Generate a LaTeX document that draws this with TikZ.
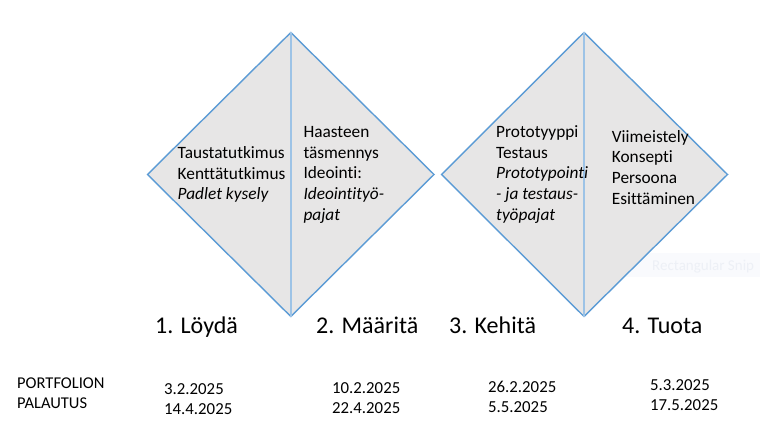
\documentclass[tikz,border=0pt]{standalone}
\usepackage{fontspec}
\setmainfont{Carlito}[Ligatures=NoCommon]
\begin{document}
\begin{tikzpicture}[x=1pt,y=-1pt,
  dia/.style={fill=dfill,draw=dblue,line width=1.4pt,line join=miter},
  mid/.style={draw=dlight,line width=1.4pt},
  dtext/.style={anchor=base west,inner sep=0pt,align=left,font=\fontsize{17.3}{20.8}\selectfont},
  head/.style={anchor=base west,inner sep=0pt,font=\fontsize{24}{28}\selectfont},
  date/.style={anchor=base west,inner sep=0pt,align=left,font=\fontsize{16.8}{20}\selectfont},
  lab/.style={anchor=base west,inner sep=0pt,align=left,font=\fontsize{16.5}{20}\selectfont}]
\definecolor{dfill}{HTML}{E7E6E6}
\definecolor{dblue}{HTML}{5B9BD5}
\definecolor{dlight}{HTML}{9DC3E6}
\definecolor{snipbg}{HTML}{F9FAFD}
\definecolor{sniptx}{HTML}{EDF0F6}
\useasboundingbox[fill=white] (0,0) rectangle (773,430);
% faint snip artefact
\fill[snipbg] (620,253) rectangle (760,277);
\node[anchor=base west,inner sep=0pt,text=sniptx,font=\fontsize{15}{18}\selectfont] (snip) at (652,270) {Rectangular Snip};
% diamond 1
\coordinate (a1) at (147.5,174.5);
\coordinate (b1) at (290.8,32.5);
\coordinate (c1) at (434,174.5);
\coordinate (d1) at (290.8,316.5);
\draw[dia] (a1) -- (b1) -- (c1) -- (d1) -- cycle;
\draw[mid] (b1) -- (d1);
% diamond 2
\coordinate (a2) at (441.5,174.5);
\coordinate (b2) at (584,32.5);
\coordinate (c2) at (727.5,174.5);
\coordinate (d2) at (584,316.5);
\draw[dia] (a2) -- (b2) -- (c2) -- (d2) -- cycle;
\draw[mid] (b2) -- (d2);
% texts (base anchor = baseline of last line)
\node[dtext] (t1) at (177.5,199.9) {Taustatutkimus\\Kenttätutkimus\\\textit{Padlet kysely}};
\node[dtext] (t2) at (303.3,220.5) {Haasteen\\täsmennys\\Ideointi:\\\textit{Ideointityö-}\\\textit{pajat}};
\node[dtext] (t3) at (496,220.5) {Prototyyppi\\Testaus\\\textit{Prototypointi}\\\textit{- ja testaus-}\\\textit{työpajat}};
\node[dtext] (t4) at (611.7,204.5) {Viimeistely\\Konsepti\\Persoona\\Esittäminen};
% headings
\node[head] (h1) at (155,333) {1. Löydä};
\node[head] (h2) at (316,333) {2. Määritä};
\node[head] (h3) at (449,333) {3. Kehitä};
\node[head] (h4) at (622,333) {4. Tuota};
% bottom
\node[lab] (pl) at (17,408) {PORTFOLION\\PALAUTUS};
\node[date] (d1t) at (164,414) {3.2.2025\\14.4.2025};
\node[date] (d2t) at (332,413) {10.2.2025\\22.4.2025};
\node[date] (d3t) at (488,412) {26.2.2025\\5.5.2025};
\node[date] (d4t) at (650,410) {5.3.2025\\17.5.2025};
\end{tikzpicture}
\end{document}
